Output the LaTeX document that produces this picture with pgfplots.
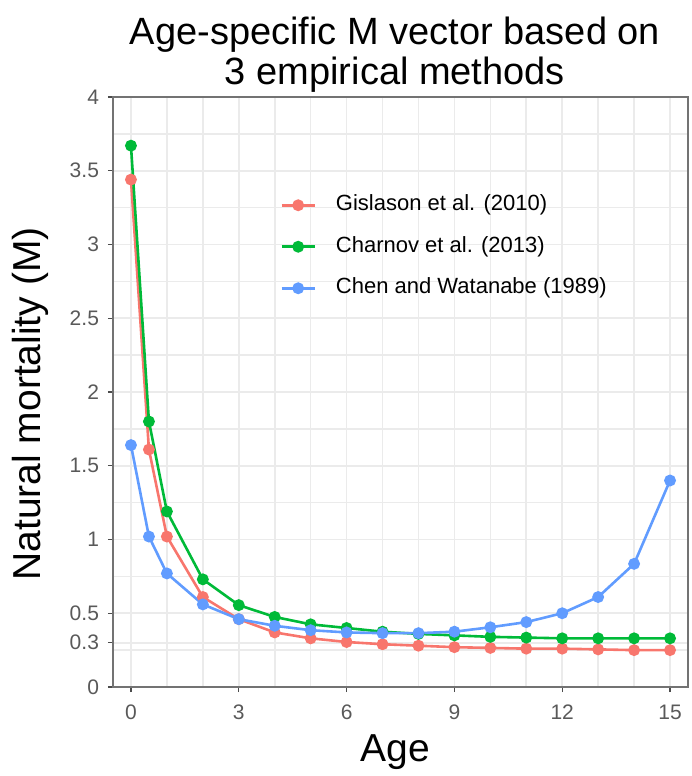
\documentclass[border=0pt]{standalone}
\usepackage{fontspec}
\setmainfont{Liberation Sans}
\usepackage{pgfplots}
\pgfplotsset{compat=1.18}
\definecolor{ggred}{HTML}{F8766D}
\definecolor{gggreen}{HTML}{00BA38}
\definecolor{ggblue}{HTML}{619CFF}
\definecolor{gridgray}{HTML}{EBEBEB}
\begin{document}
\begin{tikzpicture}
\begin{axis}[
    scale only axis,
    width=287.5pt, height=295pt,
    xmin=-0.5, xmax=15.5, ymin=0, ymax=4,
    xtick={0,3,6,9,12,15},
    minor xtick={1,2,4,5,7,8,10,11,13,14},
    ytick={0,0.3,0.5,1,1.5,2,2.5,3,3.5,4},
    yticklabels={0,0.3,0.5,1,1.5,2,2.5,3,3.5,4},
    minor ytick={0.25,0.75,1.25,1.75,2.25,2.75,3.25,3.75},
    grid=both,
    major grid style={gridgray, line width=0.8pt},
    minor grid style={gridgray, line width=0.8pt},
    tick align=outside,
    tick pos=left,
    major tick length=2.5pt, minor tick length=0pt,
    tick style={black!70, line width=0.7pt},
    axis line style={black!55, line width=0.7pt},
    /pgf/number format/assume math mode=true,
    ticklabel style={font=\fontsize{10.5}{12}\selectfont, text=black!65},
    xticklabel style={yshift=-3pt},
    yticklabel style={xshift=-1pt},
    legend cell align=left,
    legend style={at={(0.2904,0.835)}, anchor=north west, draw=none, fill=none,
        font=\fontsize{11}{13}\selectfont, inner sep=0pt, row sep=10.25pt, column sep=10pt,
        nodes={inner sep=0pt, text height=8pt, text depth=2.5pt}},
    legend image code/.code={\draw[mark repeat=2, mark phase=2] plot coordinates {(0pt,0pt) (8.25pt,0pt) (16.5pt,0pt)};},
    every axis plot/.append style={line width=1.3pt, mark=*, mark size=2.3pt, mark options={solid}},
]
\addplot[color=ggred, mark options={fill=ggred}] coordinates {
(0,3.44) (0.5,1.61) (1,1.02) (2,0.61) (3,0.46) (4,0.37) (5,0.33) (6,0.305) (7,0.29)
(8,0.28) (9,0.27) (10,0.265) (11,0.26) (12,0.26) (13,0.255) (14,0.25) (15,0.25)};
\addlegendentry{Gislason et al. (2010)}
\addplot[color=gggreen, mark options={fill=gggreen}] coordinates {
(0,3.67) (0.5,1.80) (1,1.19) (2,0.73) (3,0.555) (4,0.475) (5,0.425) (6,0.40) (7,0.375)
(8,0.36) (9,0.35) (10,0.34) (11,0.335) (12,0.33) (13,0.33) (14,0.33) (15,0.33)};
\addlegendentry{Charnov et al. (2013)}
\addplot[color=ggblue, mark options={fill=ggblue}] coordinates {
(0,1.64) (0.5,1.02) (1,0.77) (2,0.56) (3,0.46) (4,0.415) (5,0.385) (6,0.37) (7,0.365)
(8,0.365) (9,0.375) (10,0.405) (11,0.44) (12,0.50) (13,0.61) (14,0.835) (15,1.40)};
\addlegendentry{Chen and Watanabe (1989)}
\end{axis}
\node[font=\fontsize{19}{22}\selectfont] at (141pt,326pt) {Age-specific M vector based on};
\node[font=\fontsize{19}{22}\selectfont] at (141pt,306pt) {3 empirical methods};
\node[font=\fontsize{19.5}{22}\selectfont, rotate=90] at (-41.5pt,141.5pt) {Natural mortality (M)};
\node[font=\fontsize{19.5}{22}\selectfont] at (141pt,-32.5pt) {Age};
\pgfresetboundingbox
\path[use as bounding box] (-56.5pt,-44.5pt) rectangle (289pt,343.5pt);
\end{tikzpicture}
\end{document}
